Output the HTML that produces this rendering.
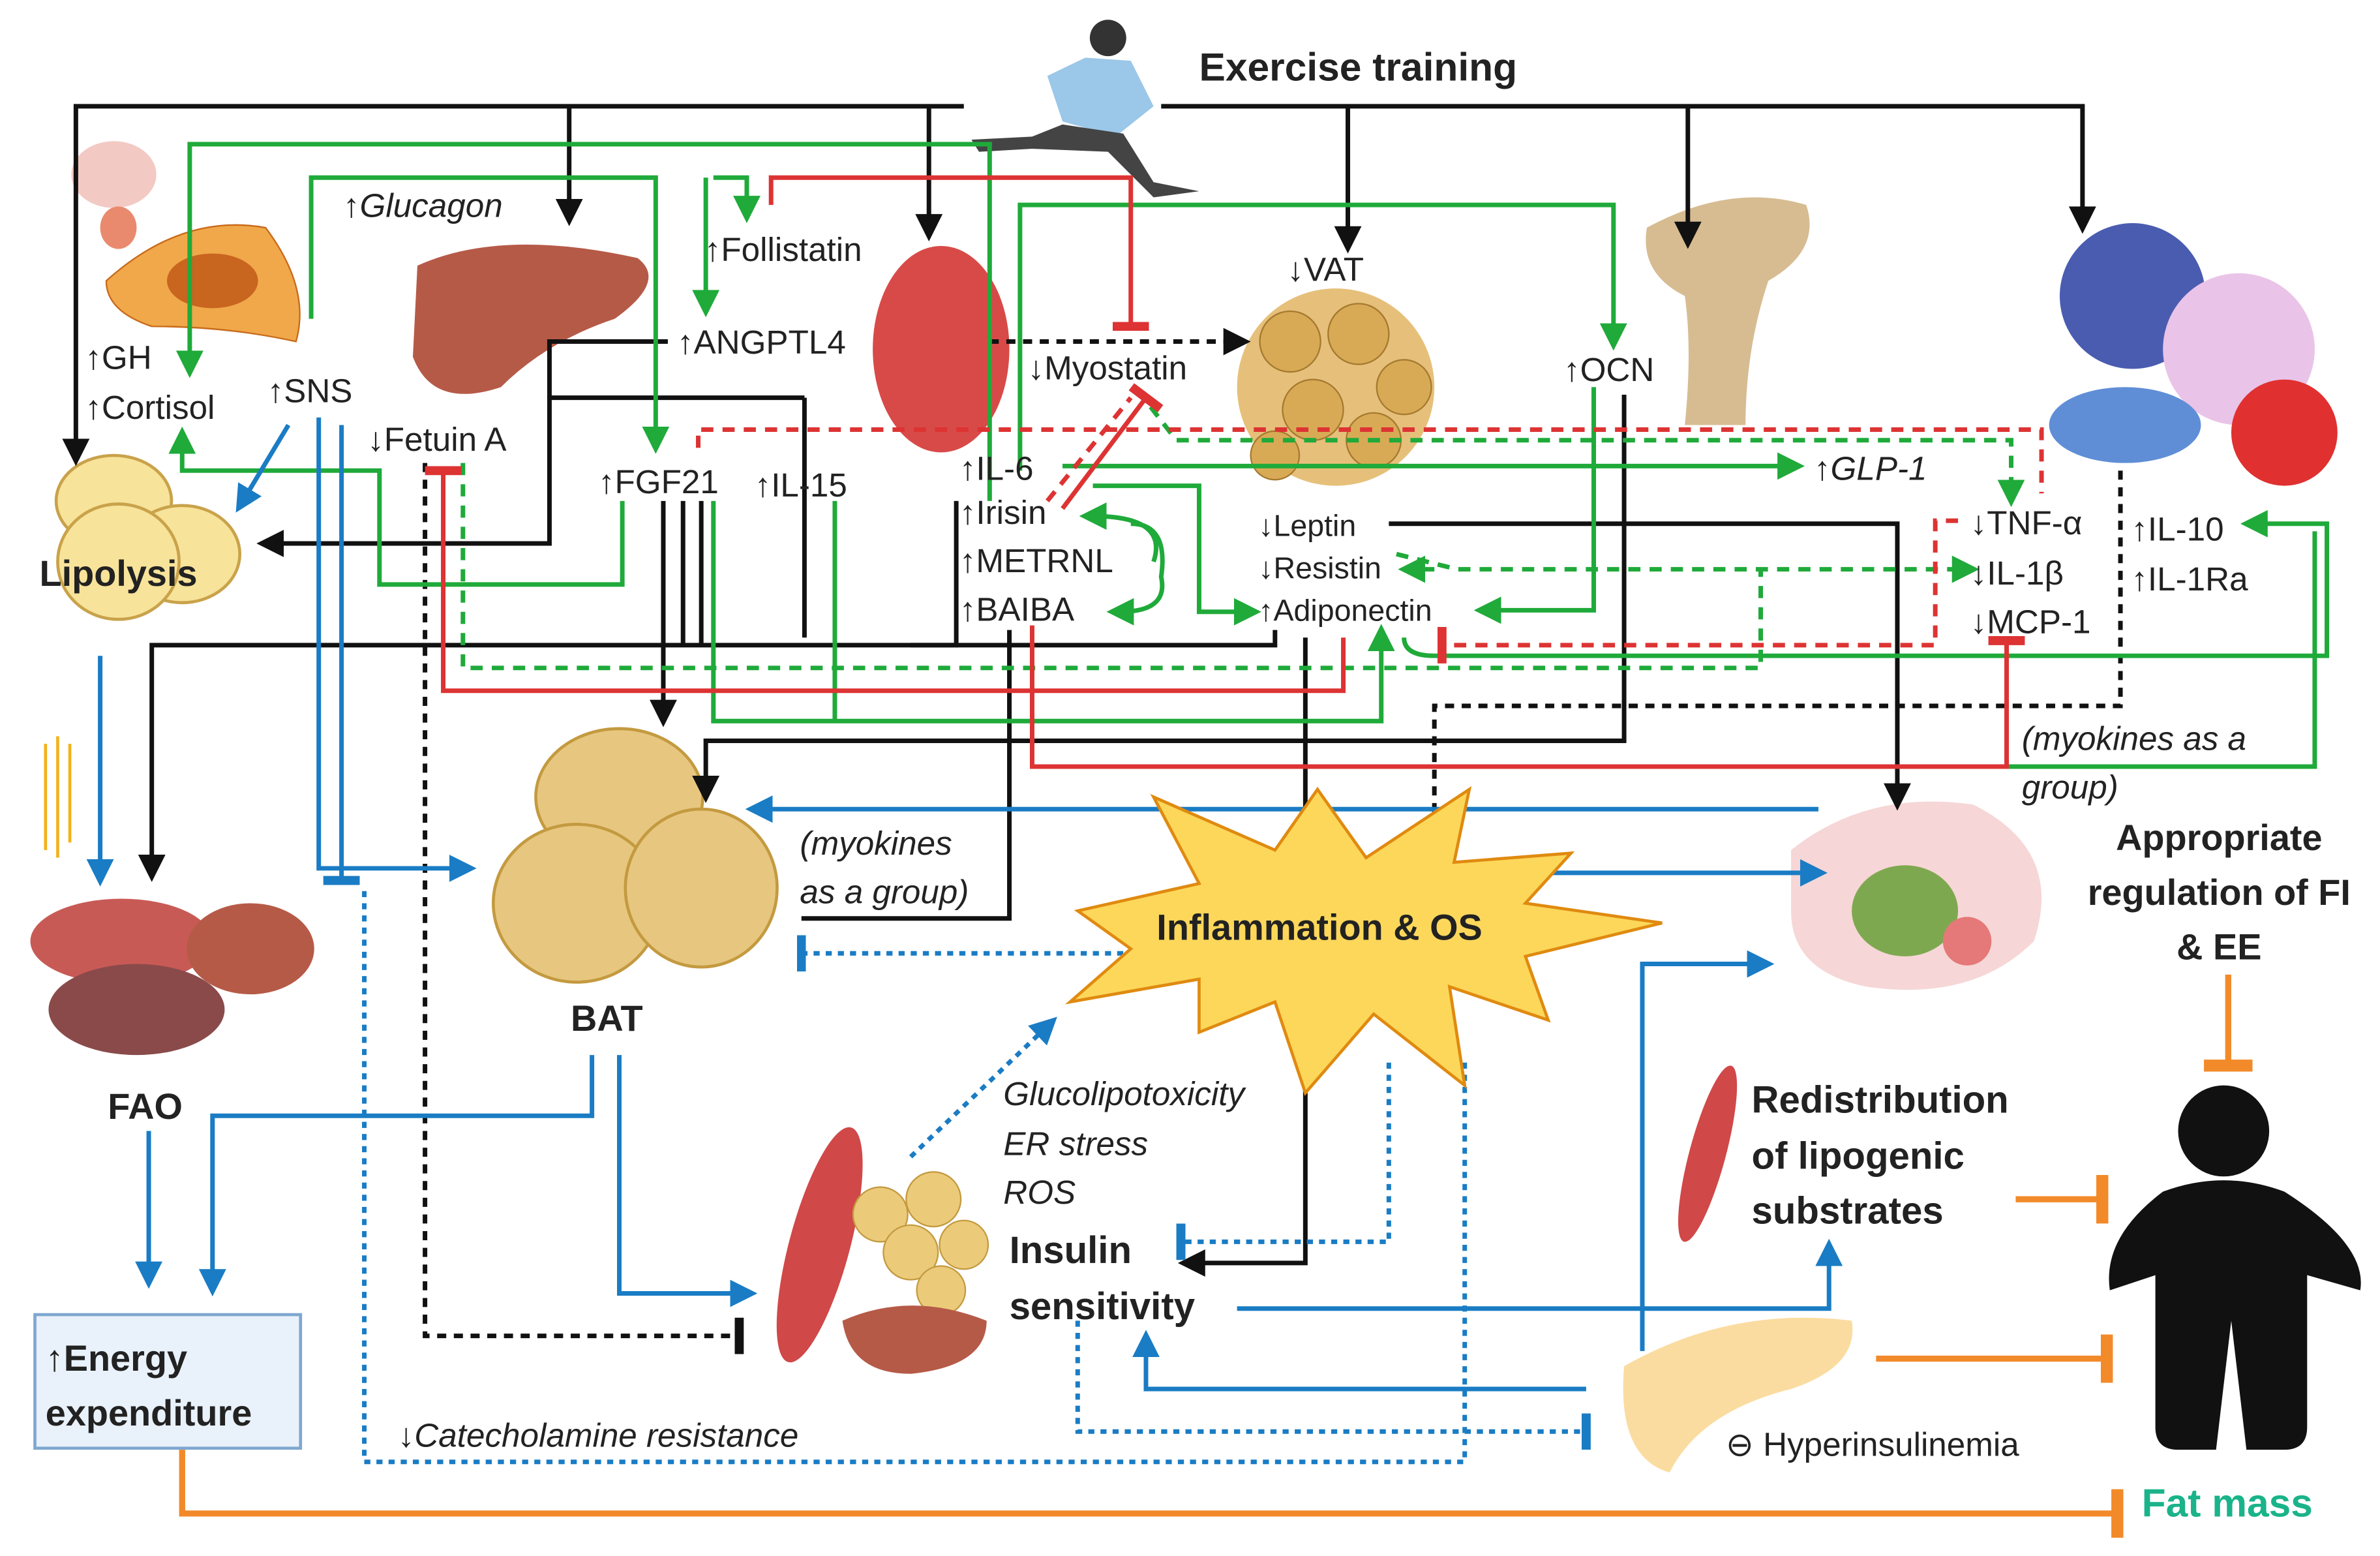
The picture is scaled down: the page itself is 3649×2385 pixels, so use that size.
<!DOCTYPE html>
<html><head><meta charset="utf-8"><style>
html,body{margin:0;padding:0;background:#fff;}
svg{display:block;}
text{font-family:"Liberation Sans",sans-serif;fill:#222;}
.b{font-weight:bold;}
.i{font-style:italic;}
</style></head><body>
<svg width="3649" height="2385" viewBox="0 0 1568 1025" preserveAspectRatio="none" xmlns="http://www.w3.org/2000/svg">
<defs>
<marker id="ak" markerWidth="6" markerHeight="6" refX="3" refY="3" orient="auto" markerUnits="strokeWidth"><path d="M0,0 L6,3 L0,6z" fill="#111"/></marker>
<marker id="ag" markerWidth="6" markerHeight="6" refX="3" refY="3" orient="auto" markerUnits="strokeWidth"><path d="M0,0 L6,3 L0,6z" fill="#1faa3a"/></marker>
<marker id="ab" markerWidth="6" markerHeight="6" refX="3" refY="3" orient="auto" markerUnits="strokeWidth"><path d="M0,0 L6,3 L0,6z" fill="#1a7cc4"/></marker>
<marker id="tr" markerWidth="2" markerHeight="8" refX="1" refY="4" orient="auto" markerUnits="strokeWidth"><path d="M1,0 L1,8" stroke="#d33" stroke-width="2"/></marker>
<marker id="tb" markerWidth="2" markerHeight="8" refX="1" refY="4" orient="auto" markerUnits="strokeWidth"><path d="M1,0 L1,8" stroke="#1a7cc4" stroke-width="2"/></marker>
<marker id="to" markerWidth="2" markerHeight="8" refX="1" refY="4" orient="auto" markerUnits="strokeWidth"><path d="M1,0 L1,8" stroke="#f28a2a" stroke-width="2"/></marker>
<marker id="tk" markerWidth="2" markerHeight="8" refX="1" refY="4" orient="auto" markerUnits="strokeWidth"><path d="M1,0 L1,8" stroke="#111" stroke-width="2"/></marker>
</defs>

<!-- organs -->
<ellipse cx="75" cy="115" rx="28" ry="22" fill="#f3c9c4"/>
<ellipse cx="78" cy="150" rx="12" ry="14" fill="#e98a6e"/>
<path d="M70,185 Q120,140 175,150 Q205,190 195,225 Q150,215 100,215 Q70,205 70,185z" fill="#f0a84a" stroke="#c86a1a"/>
<ellipse cx="140" cy="185" rx="30" ry="18" fill="#c8651f"/>
<path d="M275,175 Q330,150 420,170 Q440,185 405,210 Q360,225 330,255 Q285,270 272,235z" fill="#b65a48"/>
<ellipse cx="620" cy="230" rx="45" ry="68" fill="#d84a48"/>
<ellipse cx="880" cy="255" rx="65" ry="65" fill="#e6c07a"/>
<g fill="#d9aa55" stroke="#a57a30">
<circle cx="850" cy="225" r="20"/><circle cx="895" cy="220" r="20"/><circle cx="925" cy="255" r="18"/><circle cx="865" cy="270" r="20"/><circle cx="905" cy="290" r="18"/><circle cx="840" cy="300" r="16"/>
</g>
<path d="M1085,150 Q1140,120 1190,135 Q1200,165 1165,185 Q1150,230 1150,280 L1110,280 Q1115,230 1110,195 Q1080,180 1085,150z" fill="#d7bc92"/>
<circle cx="1405" cy="195" r="48" fill="#4a5cb0"/>
<circle cx="1475" cy="230" r="50" fill="#e9c4e8"/>
<ellipse cx="1400" cy="280" rx="50" ry="25" fill="#5f8ed6"/>
<circle cx="1505" cy="285" r="35" fill="#e03030"/>
<g fill="#f7e39a" stroke="#c9a24a" stroke-width="2">
<ellipse cx="75" cy="330" rx="38" ry="30"/><ellipse cx="120" cy="365" rx="38" ry="32"/><ellipse cx="78" cy="370" rx="40" ry="38"/>
</g>
<g fill="#e7c77f" stroke="#c49a40" stroke-width="2">
<ellipse cx="408" cy="525" rx="55" ry="45"/><ellipse cx="380" cy="595" rx="55" ry="52"/><ellipse cx="462" cy="585" rx="50" ry="52"/>
</g>
<ellipse cx="80" cy="620" rx="60" ry="28" fill="#c85a55"/>
<ellipse cx="165" cy="625" rx="42" ry="30" fill="#b65a48"/>
<ellipse cx="90" cy="665" rx="58" ry="30" fill="#8a4a4a"/>
<g stroke="#f2b21c" stroke-width="2"><line x1="30" y1="490" x2="30" y2="560"/><line x1="38" y1="485" x2="38" y2="565"/><line x1="46" y1="490" x2="46" y2="555"/></g>
<path d="M1180,560 Q1230,520 1300,530 Q1360,560 1340,620 Q1300,660 1230,650 Q1180,640 1180,600z" fill="#f6d6d6"/>
<ellipse cx="1255" cy="600" rx="35" ry="30" fill="#7ea850"/>
<circle cx="1296" cy="620" r="16" fill="#e57878"/>
<ellipse cx="540" cy="820" rx="20" ry="80" fill="#d04848" transform="rotate(15 540 820)"/>
<g fill="#ebcb7a" stroke="#c49a40"><circle cx="580" cy="800" r="18"/><circle cx="615" cy="790" r="18"/><circle cx="600" cy="825" r="18"/><circle cx="635" cy="820" r="16"/><circle cx="620" cy="850" r="16"/></g>
<path d="M555,870 Q600,850 650,870 Q650,900 600,905 Q560,905 555,870z" fill="#b65a48"/>
<ellipse cx="1125" cy="760" rx="12" ry="60" fill="#d04848" transform="rotate(15 1125 760)"/>
<path d="M1070,900 Q1140,860 1220,870 Q1225,900 1180,915 Q1120,930 1100,970 Q1065,960 1070,900z" fill="#fbdca0"/>
<!-- person -->
<circle cx="1465" cy="745" r="30" fill="#111"/>
<path d="M1425,785 Q1465,770 1505,785 Q1560,820 1555,850 L1520,840 L1520,940 Q1520,955 1505,955 L1480,955 L1470,870 L1460,955 L1435,955 Q1420,955 1420,940 L1420,840 L1390,850 Q1385,815 1425,785z" fill="#111"/>
<!-- runner -->
<circle cx="730" cy="25" r="12" fill="#333"/>
<path d="M715,38 L745,40 L760,70 L735,90 L700,80 L690,50z" fill="#9bc7e8"/>
<path d="M700,82 L740,88 L760,120 L790,126 L760,130 L730,100 L680,98 L645,100 L640,92 L680,90z" fill="#444"/>

<!-- black lines -->
<g fill="none" stroke="#111" stroke-width="3">
<path d="M635,70 H50 V298" marker-end="url(#ak)"/>
<path d="M765,70 H1372 V145" marker-end="url(#ak)"/>
<path d="M375,70 V140" marker-end="url(#ak)"/>
<path d="M612,70 V150" marker-end="url(#ak)"/>
<path d="M888,70 V158" marker-end="url(#ak)"/>
<path d="M1112,70 V155" marker-end="url(#ak)"/>
<path d="M440,225 H362 V358 H178" marker-end="url(#ak)"/>
<path d="M530,262 H362"/>
<path d="M530,262 V420"/>
<path d="M437,330 V470" marker-end="url(#ak)"/>
<path d="M450,330 V425"/><path d="M462,330 V425"/>
<path d="M630,330 V425 H100 V572" marker-end="url(#ak)"/>
<path d="M840,415 V425 H600"/>
<path d="M915,345 H1250 V525" marker-end="url(#ak)"/>
<path d="M1070,260 V488 H465 V520" marker-end="url(#ak)"/>
<path d="M665,415 V605 H528"/>
<path d="M860,420 V832 H785" marker-end="url(#ak)"/>
</g>
<g fill="none" stroke="#111" stroke-width="3" stroke-dasharray="6,5">
<path d="M652,225 H815" marker-end="url(#ak)"/>
<path d="M280,305 V880 H487" marker-end="url(#tk)"/>
<path d="M1397,310 V465 H945 V570" marker-end="url(#ak)"/>
</g>
<!-- green -->
<g fill="none" stroke="#1faa3a" stroke-width="3">
<path d="M652,330 V95 H125 V240" marker-end="url(#ag)"/>
<path d="M205,210 V117 H432 V290" marker-end="url(#ag)"/>
<path d="M465,117 V200" marker-end="url(#ag)"/>
<path d="M470,117 H492 V138" marker-end="url(#ag)"/>
<path d="M410,330 V385 H250 V310 H120 V290" marker-end="url(#ag)"/>
<path d="M672,310 V135 H1063 V222" marker-end="url(#ag)"/>
<path d="M700,307 H1180" marker-end="url(#ag)"/>
<path d="M720,320 H790 V403 H822" marker-end="url(#ag)"/>
<path d="M1050,255 V402 H980" marker-end="url(#ag)"/>
<path d="M745,345 Q770,345 765,380 Q770,403 738,403" marker-end="url(#ag)"/>
<path d="M760,370 Q770,340 720,340" marker-end="url(#ag)"/>
<path d="M470,330 V475 H910 V420" marker-end="url(#ag)"/>
<path d="M550,330 V475"/>
<path d="M925,420 Q925,432 945,432 H1533 V345 H1485" marker-end="url(#ag)"/>
<path d="M1300,505 H1525 V350"/>
</g>
<g fill="none" stroke="#1faa3a" stroke-width="3" stroke-dasharray="8,6">
<path d="M758,268 L775,290 H1325 V325" marker-end="url(#ag)"/>
<path d="M920,365 L960,375 H1295" marker-end="url(#ag)"/>
<path d="M945,375 H930" marker-end="url(#ag)"/>
<path d="M305,305 V440 H1160 V375"/>
</g>
<!-- red -->
<g fill="none" stroke="#d33" stroke-width="3">
<path d="M508,135 V117 H745 V215" marker-end="url(#tr)"/>
<path d="M885,420 V455 H292 V310" marker-end="url(#tr)"/>
<path d="M680,412 V505 H1322 V422" marker-end="url(#tr)"/>
<path d="M700,335 L755,262" marker-end="url(#tr)"/>
</g>
<g fill="none" stroke="#d33" stroke-width="3" stroke-dasharray="8,6">
<path d="M460,295 V283 H1345 V325"/>
<path d="M1290,343 H1275 V425 H950" marker-end="url(#tr)"/>
<path d="M690,330 L745,262"/>
</g>
<!-- blue -->
<g fill="none" stroke="#1a7cc4" stroke-width="3">
<path d="M66,432 V575" marker-end="url(#ab)"/>
<path d="M190,280 L160,330" marker-end="url(#ab)"/>
<path d="M210,275 V572 H305" marker-end="url(#ab)"/>
<path d="M225,280 V580" marker-end="url(#tb)"/>
<path d="M1198,533 H500" marker-end="url(#ab)"/>
<path d="M1020,575 H1195" marker-end="url(#ab)"/>
<path d="M390,695 V735 H140 V845" marker-end="url(#ab)"/>
<path d="M98,745 V840" marker-end="url(#ab)"/>
<path d="M408,695 V852 H490" marker-end="url(#ab)"/>
<path d="M815,862 H1205 V825" marker-end="url(#ab)"/>
<path d="M1082,890 V635 H1160" marker-end="url(#ab)"/>
<path d="M1045,915 H755 V885" marker-end="url(#ab)"/>
</g>
<g fill="none" stroke="#1a7cc4" stroke-width="3" stroke-dasharray="4,4">
<path d="M740,628 H528" marker-end="url(#tb)"/>
<path d="M600,762 L690,676" marker-end="url(#ab)"/>
<path d="M915,700 V818 H778" marker-end="url(#tb)"/>
<path d="M710,870 V943 H1045" marker-end="url(#tb)"/>
<path d="M965,700 V963 H240 V585"/>
</g>
<!-- orange -->
<g fill="none" stroke="#f28a2a" stroke-width="4">
<path d="M120,955 V997 H1395" marker-end="url(#to)"/>
<path d="M1468,642 V702" marker-end="url(#to)"/>
<path d="M1328,790 H1385" marker-end="url(#to)"/>
<path d="M1236,895 H1388" marker-end="url(#to)"/>
</g>

<!-- starburst -->
<polygon points="710,600 790,582 760,525 840,560 868,520 900,565 968,520 958,568 1035,562 1005,595 1095,608 1005,630 1020,672 955,650 965,715 905,668 860,720 840,660 790,680 790,645 705,660 745,625" fill="#fcd75a" stroke="#e08a10" stroke-width="2"/>

<!-- energy box -->
<rect x="23" y="866" width="175" height="88" fill="#e9f1fa" stroke="#7ea7d0" stroke-width="2"/>

<!-- text -->
<text x="790" y="53" font-size="26" class="b">Exercise training</text>
<text x="226" y="143" font-size="22" class="i">↑Glucagon</text>
<text x="464" y="172" font-size="22">↑Follistatin</text>
<text x="446" y="233" font-size="22">↑ANGPTL4</text>
<text x="848" y="185" font-size="22">↓VAT</text>
<text x="677" y="250" font-size="22">↓Myostatin</text>
<text x="56" y="243" font-size="22">↑GH</text>
<text x="56" y="276" font-size="22">↑Cortisol</text>
<text x="176" y="265" font-size="22">↑SNS</text>
<text x="242" y="297" font-size="22">↓Fetuin A</text>
<text x="394" y="325" font-size="22">↑FGF21</text>
<text x="497" y="327" font-size="22">↑IL-15</text>
<text x="632" y="316" font-size="22">↑IL-6</text>
<text x="632" y="345" font-size="22">↑Irisin</text>
<text x="632" y="377" font-size="22">↑METRNL</text>
<text x="632" y="409" font-size="22">↑BAIBA</text>
<text x="1030" y="251" font-size="22">↑OCN</text>
<text x="1195" y="316" font-size="22" class="i">↑GLP-1</text>
<text x="829" y="353" font-size="20">↓Leptin</text>
<text x="829" y="381" font-size="20">↓Resistin</text>
<text x="829" y="409" font-size="20">↑Adiponectin</text>
<text x="1298" y="352" font-size="22">↓TNF-α</text>
<text x="1298" y="385" font-size="22">↓IL-1β</text>
<text x="1298" y="417" font-size="22">↓MCP-1</text>
<text x="1404" y="356" font-size="22">↑IL-10</text>
<text x="1404" y="389" font-size="22">↑IL-1Ra</text>
<text x="26" y="386" font-size="24" class="b">Lipolysis</text>
<text x="1332" y="494" font-size="22" class="i">(myokines as a</text>
<text x="1332" y="526" font-size="22" class="i">group)</text>
<text x="527" y="563" font-size="22" class="i">(myokines</text>
<text x="527" y="595" font-size="22" class="i">as a group)</text>
<text x="1462" y="560" font-size="24" class="b" text-anchor="middle">Appropriate</text>
<text x="1462" y="596" font-size="24" class="b" text-anchor="middle">regulation of FI</text>
<text x="1462" y="632" font-size="24" class="b" text-anchor="middle">&amp; EE</text>
<text x="762" y="619" font-size="24" class="b">Inflammation &amp; OS</text>
<text x="376" y="679" font-size="24" class="b">BAT</text>
<text x="71" y="737" font-size="24" class="b">FAO</text>
<text x="661" y="728" font-size="22" class="i">Glucolipotoxicity</text>
<text x="661" y="761" font-size="22" class="i">ER stress</text>
<text x="661" y="793" font-size="22" class="i">ROS</text>
<text x="1154" y="733" font-size="25" class="b">Redistribution</text>
<text x="1154" y="770" font-size="25" class="b">of lipogenic</text>
<text x="1154" y="806" font-size="25" class="b">substrates</text>
<text x="665" y="832" font-size="25" class="b">Insulin</text>
<text x="665" y="869" font-size="25" class="b">sensitivity</text>
<text x="30" y="903" font-size="24" class="b">↑Energy</text>
<text x="30" y="939" font-size="24" class="b">expenditure</text>
<text x="262" y="953" font-size="22" class="i">↓Catecholamine resistance</text>
<text x="1137" y="959" font-size="22">⊖ Hyperinsulinemia</text>
<text x="1411" y="999" font-size="26" class="b" style="fill:#1ab38a">Fat mass</text>
</svg>
</body></html>
